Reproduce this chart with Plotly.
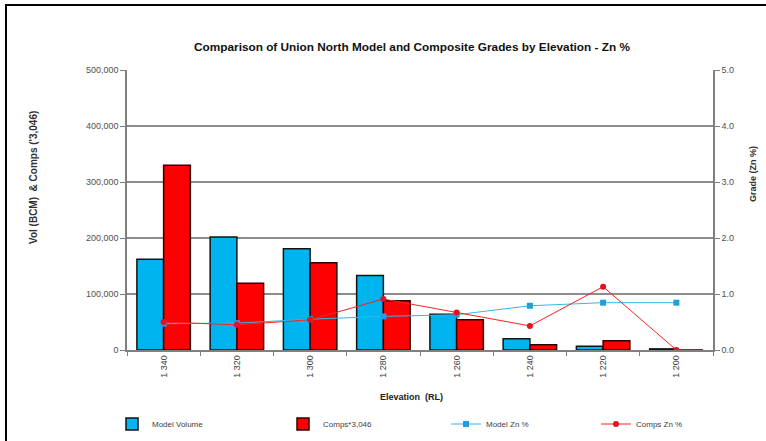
import plotly.graph_objects as go

categories = ["1 340", "1 320", "1 300", "1 280", "1 260", "1 240", "1 220", "1 200"]
model_volume = [162000, 202000, 181000, 133000, 64000, 20000, 6600, 2000]
comps_scaled = [330000, 119000, 156000, 88000, 54000, 9500, 16600, 0]
model_zn = [0.47, 0.48, 0.55, 0.60, 0.63, 0.79, 0.845, 0.845]
comps_zn = [0.50, 0.45, 0.54, 0.91, 0.67, 0.43, 1.13, 0.0]
left_ticks = [0, 100000, 200000, 300000, 400000, 500000]
right_ticks = [0, 1, 2, 3, 4, 5]

FONT = "Liberation Sans, Arial, sans-serif"
L, R, T, B = 127, 53, 70, 91
PW, PH = 766 - L - R, 441 - T - B


def px_x(x):
    return (x - L) / PW


def px_y(y):
    return (441 - B - y) / PH


fig = go.Figure()
fig.add_trace(go.Bar(x=categories, y=model_volume, name="Model Volume", legend="legend",
                     marker=dict(color="#00B4F0", line=dict(color="#141414", width=1.5))))
fig.add_trace(go.Bar(x=categories, y=comps_scaled, name="Comps*3,046", legend="legend2",
                     marker=dict(color="#FF0000", line=dict(color="#300000", width=1.5))))
fig.add_trace(go.Scatter(x=categories, y=model_zn, name="Model Zn %", yaxis="y2", legend="legend3",
                         mode="lines+markers",
                         line=dict(color="#33B8E8", width=1),
                         marker=dict(symbol="square", size=6, color="#1EA0DC")))
fig.add_trace(go.Scatter(x=categories, y=comps_zn, name="Comps Zn %", yaxis="y2", legend="legend4",
                         mode="lines+markers",
                         line=dict(color="#FF2020", width=1),
                         marker=dict(symbol="circle", size=6, color="#E8101E")))

legend_text_x = [154, 325, 488, 638]


def leg(text_x):
    return dict(orientation="h", x=px_x(text_x - 42), xanchor="left", y=px_y(424), yanchor="middle",
                font=dict(size=8, color="#404040", family=FONT), itemwidth=30,
                bgcolor="rgba(0,0,0,0)")


fig.update_layout(
    width=766, height=441,
    margin=dict(l=L, r=R, t=T, b=B, autoexpand=False),
    paper_bgcolor="white", plot_bgcolor="white",
    font=dict(family=FONT, size=9, color="#404040"),
    title=dict(text="<b>Comparison of Union North Model and Composite Grades by Elevation - Zn %</b>",
               x=412 / 766, xanchor="center", y=1 - 47 / 441, yanchor="middle",
               font=dict(size=11.8, color="#111111", family=FONT)),
    barmode="group", bargap=0.27, bargroupgap=0.0,
    showlegend=True,
    legend=leg(legend_text_x[0]),
    legend2=leg(legend_text_x[1]),
    legend3=leg(legend_text_x[2]),
    legend4=leg(legend_text_x[3]),
    xaxis=dict(tickangle=-90, showline=True, linecolor="#808080", linewidth=1.5,
               ticks="outside", tickson="boundaries", ticklen=4, tickcolor="#808080",
               tickfont=dict(size=9, color="#404040"), automargin=False),
    yaxis=dict(range=[0, 500000], tickvals=left_ticks, tickformat=",",
               showgrid=True, gridcolor="#8c8c8c", gridwidth=2,
               showline=True, linecolor="#808080", linewidth=1.5,
               ticks="outside", ticklen=5, tickcolor="#808080",
               tickfont=dict(size=9, color="#505050"),
               zeroline=False, automargin=False),
    yaxis2=dict(range=[0, 5], tickvals=right_ticks, tickformat=".1f", overlaying="y", side="right",
                showgrid=False, showline=True, linecolor="#808080", linewidth=1.5,
                ticks="outside", ticklen=5, tickcolor="#808080",
                tickfont=dict(size=9, color="#505050"), zeroline=False, automargin=False),
)

annots = [
    dict(text="<b>Elevation  (RL)</b>", x=px_x(411), y=px_y(397), textangle=0,
         font=dict(size=9, color="#202020", family=FONT)),
    dict(text="<b>Vol (BCM)  & Comps ('3,046)</b>", x=px_x(33), y=px_y(178), textangle=-90,
         font=dict(size=10, color="#303030", family=FONT)),
    dict(text="<b>Grade (Zn %)</b>", x=px_x(753), y=px_y(174), textangle=-90,
         font=dict(size=9, color="#303030", family=FONT)),
]
for a in annots:
    fig.add_annotation(xref="paper", yref="paper", showarrow=False,
                       xanchor="center", yanchor="middle", **a)

fig.add_shape(type="rect", xref="paper", yref="paper",
              x0=px_x(6), x1=px_x(770), y0=px_y(445), y1=px_y(5),
              line=dict(color="#000000", width=2), fillcolor="rgba(0,0,0,0)", layer="below")

fig.write_html("out.html", config={"displayModeBar": False},
               post_script="document.body.style.margin='0';document.body.style.overflow='hidden';")
